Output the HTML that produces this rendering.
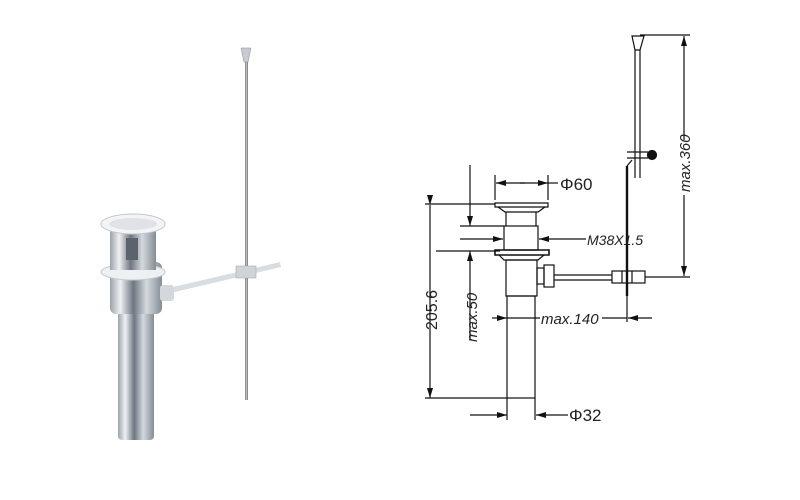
<!DOCTYPE html>
<html><head><style>
body{margin:0;background:#fff;}
svg{display:block;font-family:"Liberation Sans",sans-serif;}
</style></head><body>
<svg width="800" height="500" viewBox="0 0 800 500">
<defs>
<linearGradient id="chrome" x1="0" x2="1" y1="0" y2="0">
<stop offset="0" stop-color="#9da3ab"/><stop offset="0.2" stop-color="#eef1f4"/><stop offset="0.45" stop-color="#6f7680"/><stop offset="0.7" stop-color="#d4d9df"/><stop offset="1" stop-color="#858c95"/>
</linearGradient>
<linearGradient id="rod" x1="0" x2="1"><stop offset="0" stop-color="#777"/><stop offset="0.5" stop-color="#ccc"/><stop offset="1" stop-color="#666"/></linearGradient>
<marker id="a" markerWidth="10" markerHeight="6" refX="10" refY="3" orient="auto" markerUnits="userSpaceOnUse"><path d="M0,0 L10,3 L0,6 z" fill="#111"/></marker>
</defs>
<!-- photo -->
<rect x="245" y="50" width="3" height="350" fill="url(#rod)"/>
<path d="M241,48 L251,48 L248,62 L244,62 z" fill="#c8ccd2" stroke="#888" stroke-width="0.5"/>
<path d="M160,290 L280,262 L281,267 L162,295 z" fill="#d8dde4"/>
<rect x="236" y="266" width="20" height="12" fill="#d0d4d8" stroke="#aaa" stroke-width="0.6"/>
<rect x="118" y="300" width="36" height="140" rx="4" fill="url(#chrome)"/>
<rect x="110" y="262" width="52" height="52" rx="6" fill="url(#chrome)"/>
<ellipse cx="133" cy="272" rx="32" ry="8" fill="#eef1f4" stroke="#c5cad0"/>
<rect x="110" y="220" width="46" height="50" fill="url(#chrome)"/>
<rect x="126" y="238" width="12" height="22" fill="#5c636c"/>
<ellipse cx="133" cy="224" rx="32" ry="10" fill="#f2f4f6" stroke="#c2c7cd"/>
<ellipse cx="133" cy="224" rx="24" ry="6" fill="#dfe3e7"/>
<rect x="160" y="285" width="14" height="16" rx="3" fill="#d4d8dc"/>
<!-- drawing -->
<g stroke="#111" fill="none" stroke-width="1.2">
<path d="M495,203 H548 V207 H495 z"/>
<path d="M498,207 L505,212 H538 L545,207"/>
<path d="M506,212 V226 M536,212 V226"/>
<rect x="504" y="226" width="34" height="24"/>
<path d="M495,250 H549 V255 H495 z" stroke-width="1.6"/>
<path d="M499,255 L504,260 H538 L544,255"/>
<rect x="506" y="260" width="31" height="36"/>
<rect x="507" y="296" width="28" height="102"/>
<rect x="537" y="268" width="7" height="16"/>
<rect x="544" y="265" width="10" height="22"/>
<path d="M554,275 H612 M554,280 H612"/>
<rect x="612" y="271" width="33" height="12"/>
<path d="M622,271 V283 M632,271 V283"/>
<path d="M627,166 V296" stroke-width="2.4"/>
<path d="M627,166 L632,160"/>
<path d="M635,50 V178 M640,50 V178"/>
<path d="M632,36 H644 L640,50 H635 z"/>
<path d="M627,152 H648 M627,158 H648"/>
<circle cx="652" cy="155" r="4.5" fill="#111"/>
<path d="M425,204 H495 M436,251 H500"/>
<path d="M430,205 V398" marker-start="url(#a)" marker-end="url(#a)"/>
<path d="M425,398 H507"/>
<path d="M470,165 V226" marker-end="url(#a)"/>
<path d="M470,340 V251" marker-end="url(#a)"/>
<path d="M460,226 H504"/>
<path d="M640,35 H690 M645,277 H690"/>
<path d="M684,140 V36" marker-end="url(#a)"/>
<path d="M684,195 V276" marker-end="url(#a)"/>
<path d="M495,175 V200 M548,175 V200"/>
<path d="M525,183 H496" marker-end="url(#a)"/>
<path d="M520,183 H548" marker-end="url(#a)"/>
<path d="M548,183 H558"/>
<path d="M460,239 H503" marker-end="url(#a)"/>
<path d="M556,239 H539" marker-end="url(#a)"/>
<path d="M556,239 H586"/>
<path d="M492,318 H507" marker-end="url(#a)"/>
<path d="M507,318 H540 M602,318 H627"/>
<path d="M652,318 H628" marker-end="url(#a)"/>
<path d="M627,296 V322"/>
<path d="M507,398 V420 M535,398 V420"/>
<path d="M470,415 H507" marker-end="url(#a)"/>
<path d="M560,415 H536" marker-end="url(#a)"/>
<path d="M560,415 H568"/>
</g>
<g fill="#222" font-size="17">
<text x="560" y="190">Φ60</text>
<text x="587" y="245" font-size="14" font-style="italic">M38X1.5</text>
<text x="541" y="324" font-size="15" font-style="italic">max.140</text>
<text x="569" y="421">Φ32</text>
<text transform="translate(437,330) rotate(-90)" font-size="16">205.6</text>
<text transform="translate(477,342) rotate(-90)" font-size="15" font-style="italic">max.50</text>
<text transform="translate(690,192) rotate(-90)" font-size="15" font-style="italic">max.360</text>
</g>
</svg>
</body></html>
